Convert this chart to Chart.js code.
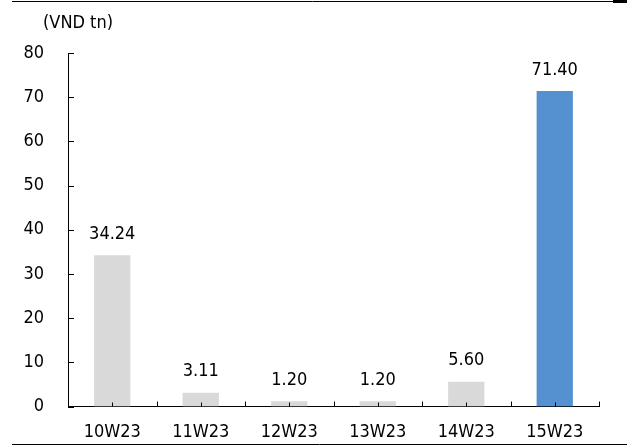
<!DOCTYPE html>
<html>
<head>
<meta charset="utf-8">
<script src="https://cdn.jsdelivr.net/npm/chart.js@4/dist/chart.umd.min.js"></script>
<style>
  html, body { margin: 0; padding: 0; background: #fff; }
  #wrap { width: 627px; height: 447px; }
</style>
</head>
<body>
<div id="wrap"><canvas id="myChart" width="627" height="447"></canvas></div>
<script>
// Weekly values, VND tn
const weeks = ['10W23', '11W23', '12W23', '13W23', '14W23', '15W23'];
const values = [34.24, 3.11, 1.20, 1.20, 5.60, 71.40];
const barColors = ['#D9D9D9', '#D9D9D9', '#D9D9D9', '#D9D9D9', '#D9D9D9', '#5591D0'];
const yTicks = [0, 10, 20, 30, 40, 50, 60, 70, 80];
const unitLabel = '(VND tn)';

const FONT = '"DejaVu Sans Condensed", "DejaVu Sans", sans-serif';
const FSIZE = 18;

// axis tick marks pointing into the plot, value labels, frame lines
const decorations = {
    id: 'decorations',
    afterDraw(chart) {
        const ctx = chart.ctx;
        const area = chart.chartArea;
        const x = chart.scales.x;
        const y = chart.scales.y;
        ctx.save();

        ctx.strokeStyle = '#000';
        ctx.lineWidth = 1;
        ctx.beginPath();
        // y ticks
        yTicks.forEach(v => {
            const py = Math.round(y.getPixelForValue(v)) + 0.5;
            ctx.moveTo(area.left, py);
            ctx.lineTo(area.left + 6, py);
        });
        // x ticks at category boundaries and centres
        for (let i = 0; i <= weeks.length; i++) {
            const px = Math.round(x.getPixelForValue(i - 0.5)) + 0.5;
            ctx.moveTo(px, area.bottom);
            ctx.lineTo(px, area.bottom - 5);
        }
        weeks.forEach((w, i) => {
            const px = Math.round(x.getPixelForValue(i)) + 0.5;
            ctx.moveTo(px, area.bottom);
            ctx.lineTo(px, area.bottom - 4);
        });
        ctx.stroke();

        // value labels
        ctx.fillStyle = '#000';
        ctx.font = FSIZE + 'px ' + FONT;
        ctx.textAlign = 'center';
        ctx.textBaseline = 'middle';
        chart.getDatasetMeta(0).data.forEach((bar, i) => {
            ctx.fillText(values[i].toFixed(2), bar.x, bar.y - 21);
        });

        // unit label
        ctx.textAlign = 'left';
        ctx.fillText(unitLabel, 43, 23);

        // frame lines
        ctx.beginPath();
        ctx.moveTo(12, 1.5);
        ctx.lineTo(613, 1.5);
        ctx.moveTo(12, 444.5);
        ctx.lineTo(627, 444.5);
        ctx.stroke();
        ctx.lineWidth = 3;
        ctx.beginPath();
        ctx.moveTo(613, 1.5);
        ctx.lineTo(627, 1.5);
        ctx.stroke();

        ctx.restore();
    }
};

var ctx = document.getElementById('myChart').getContext('2d');
var myChart = new Chart(ctx, {
    type: 'bar',
    data: {
        labels: weeks,
        datasets: [{
            data: values,
            backgroundColor: barColors,
            borderWidth: 0,
            barPercentage: 0.41,
            categoryPercentage: 1.0
        }]
    },
    options: {
        responsive: false,
        animation: false,
        events: [],
        layout: { padding: { left: 0, top: 53, right: 28, bottom: 0 } },
        plugins: {
            legend: { display: false },
            tooltip: { enabled: false }
        },
        scales: {
            x: {
                grid: { display: false, drawTicks: false },
                border: { display: true, color: '#000', width: 1 },
                ticks: {
                    color: '#000',
                    font: { family: FONT, size: FSIZE },
                    padding: 15,
                    maxRotation: 0
                },
                afterFit(scale) { scale.height = 40.5; }
            },
            y: {
                min: 0,
                max: 80,
                grid: { display: false, drawTicks: false },
                border: { display: true, color: '#000', width: 1 },
                ticks: {
                    stepSize: 10,
                    color: '#000',
                    font: { family: FONT, size: FSIZE },
                    padding: 24
                },
                afterFit(scale) { scale.width = 68; }
            }
        }
    },
    plugins: [decorations]
});
</script>
</body>
</html>
